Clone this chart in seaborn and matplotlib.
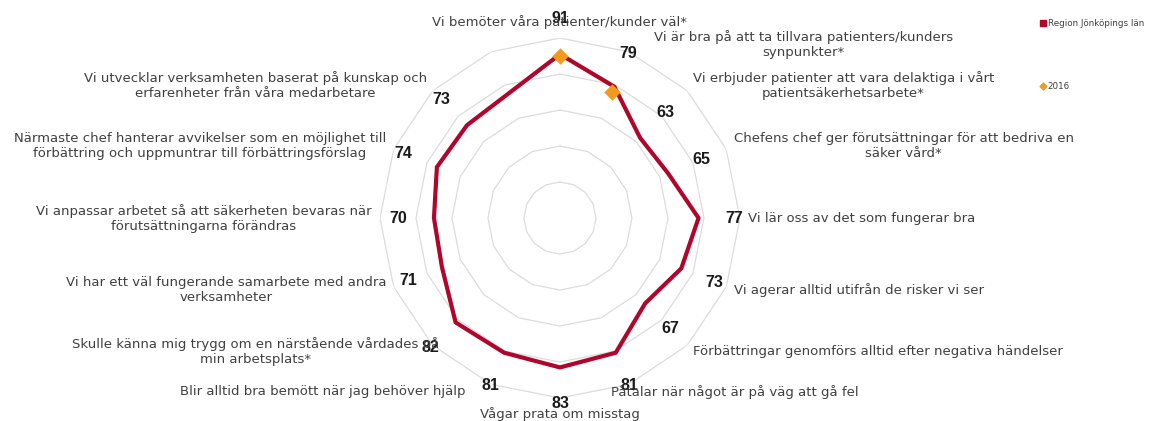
import numpy as np
import matplotlib
matplotlib.use("Agg")
import matplotlib.pyplot as plt
from matplotlib.lines import Line2D
from matplotlib.transforms import offset_copy
import seaborn as sns

# Survey statements, clockwise from the top (the last spoke has no statement)
categories = [
    "Vi bemöter våra patienter/kunder väl*",
    "Vi är bra på att ta tillvara patienters/kunders\nsynpunkter*",
    "Vi erbjuder patienter att vara delaktiga i vårt\npatientsäkerhetsarbete*",
    "Chefens chef ger förutsättningar för att bedriva en\nsäker vård*",
    "Vi lär oss av det som fungerar bra",
    "Vi agerar alltid utifrån de risker vi ser",
    "Förbättringar genomförs alltid efter negativa händelser",
    "Påtalar när något är på väg att gå fel",
    "Vågar prata om misstag",
    "Blir alltid bra bemött när jag behöver hjälp",
    "Skulle känna mig trygg om en närstående vårdades på\nmin arbetsplats*",
    "Vi har ett väl fungerande samarbete med andra\nverksamheter",
    "Vi anpassar arbetet så att säkerheten bevaras när\nförutsättningarna förändras",
    "Närmaste chef hanterar avvikelser som en möjlighet till\nförbättring och uppmuntrar till förbättringsförslag",
    "Vi utvecklar verksamheten baserat på kunskap och\nerfarenheter från våra medarbetare",
    "",
]
region_values = [91, 79, 63, 65, 77, 73, 67, 81, 83, 81, 82, 71, 70, 74, 73, np.nan]
values_2016 = [90, 76, np.nan, np.nan, np.nan, np.nan, np.nan, np.nan,
               np.nan, np.nan, np.nan, np.nan, np.nan, np.nan, np.nan, np.nan]
grid_levels = [20, 40, 60, 80, 100]
series_names = ["Region Jönköpings län", "2016"]

RED = "#B0062C"
ORANGE = "#F39A1E"
GRID = "#DCDCDC"
TEXT = "#404040"

sns.set_style("white")
plt.rcParams["font.family"] = ["DejaVu Sans"]

fig = plt.figure(figsize=(11.69, 4.21), dpi=100)
ax = fig.add_axes([0.325, 0.0546, 0.308, 0.855], projection="polar")
ax.set_theta_zero_location("N")
ax.set_theta_direction(-1)
ax.set_ylim(0, 100)
ax.grid(False)
ax.spines["polar"].set_visible(False)
ax.set_xticks([])
ax.set_yticks([])
ax.set_facecolor("none")

n = len(categories)
theta = np.arange(n) * 2 * np.pi / n

# polygonal grid rings
ring_theta = np.append(theta, theta[0])
for lvl in grid_levels:
    ax.plot(ring_theta, [lvl] * len(ring_theta), color=GRID, lw=0.9, zorder=1)

# main series: closed outline through the spokes that carry a value
vals = np.array(region_values, dtype=float)
ok = ~np.isnan(vals)
th_line = np.append(theta[ok], theta[ok][0] + 2 * np.pi)
v_line = np.append(vals[ok], vals[ok][0])
sns.lineplot(x=th_line, y=v_line, sort=False, estimator=None, ax=ax,
             color=RED, linewidth=3.0, zorder=2)

# 2016 comparison points
v16 = np.array(values_2016, dtype=float)
ok16 = ~np.isnan(v16)
sns.scatterplot(x=theta[ok16], y=v16[ok16], marker="D", s=70, color=ORANGE,
                linewidth=0, ax=ax, zorder=3)

# value labels just outside each vertex
for t, v in zip(theta, vals):
    if np.isnan(v):
        continue
    ax.text(t, v + 20, f"{v:.0f}", ha="center", va="center",
            fontsize=11.5, fontweight="bold", color="#1A1A1A",
            family=["Liberation Sans Narrow", "Liberation Sans"], zorder=4)

# statement labels around the chart
nudge = {1: 22, 7: -21, 9: -22, 10: 12}
for i, (t, lab) in enumerate(zip(theta, categories)):
    if not lab:
        continue
    deg = np.degrees(t) % 360
    if deg < 1 or deg > 359:
        ha, va, r = "center", "bottom", 105
    elif abs(deg - 180) < 1:
        ha, va, r = "center", "top", 105
    elif deg < 180:
        ha, va, r = "left", "center", 104.5
    else:
        ha, va, r = "right", "center", 104.5
    tr = offset_copy(ax.transData, fig=fig, x=nudge.get(i, 0), y=0, units="dots")
    ax.text(t, r, lab, ha=ha, va=va, multialignment="center", fontsize=9.5,
            color=TEXT, transform=tr, zorder=4)

handles = [
    Line2D([], [], linestyle="none", marker="s", markersize=5,
           markerfacecolor=RED, markeredgecolor=RED),
    Line2D([], [], linestyle="none", marker="D", markersize=3.5,
           markerfacecolor=ORANGE, markeredgecolor=ORANGE),
]
fig.legend(handles, series_names, loc="upper left",
           bbox_to_anchor=(0.887, 0.962), frameon=False, fontsize=6.3,
           handlelength=0.6, handletextpad=0.25, labelspacing=6.1,
           labelcolor=TEXT, borderaxespad=0)

fig.savefig("out.png", dpi=100)
